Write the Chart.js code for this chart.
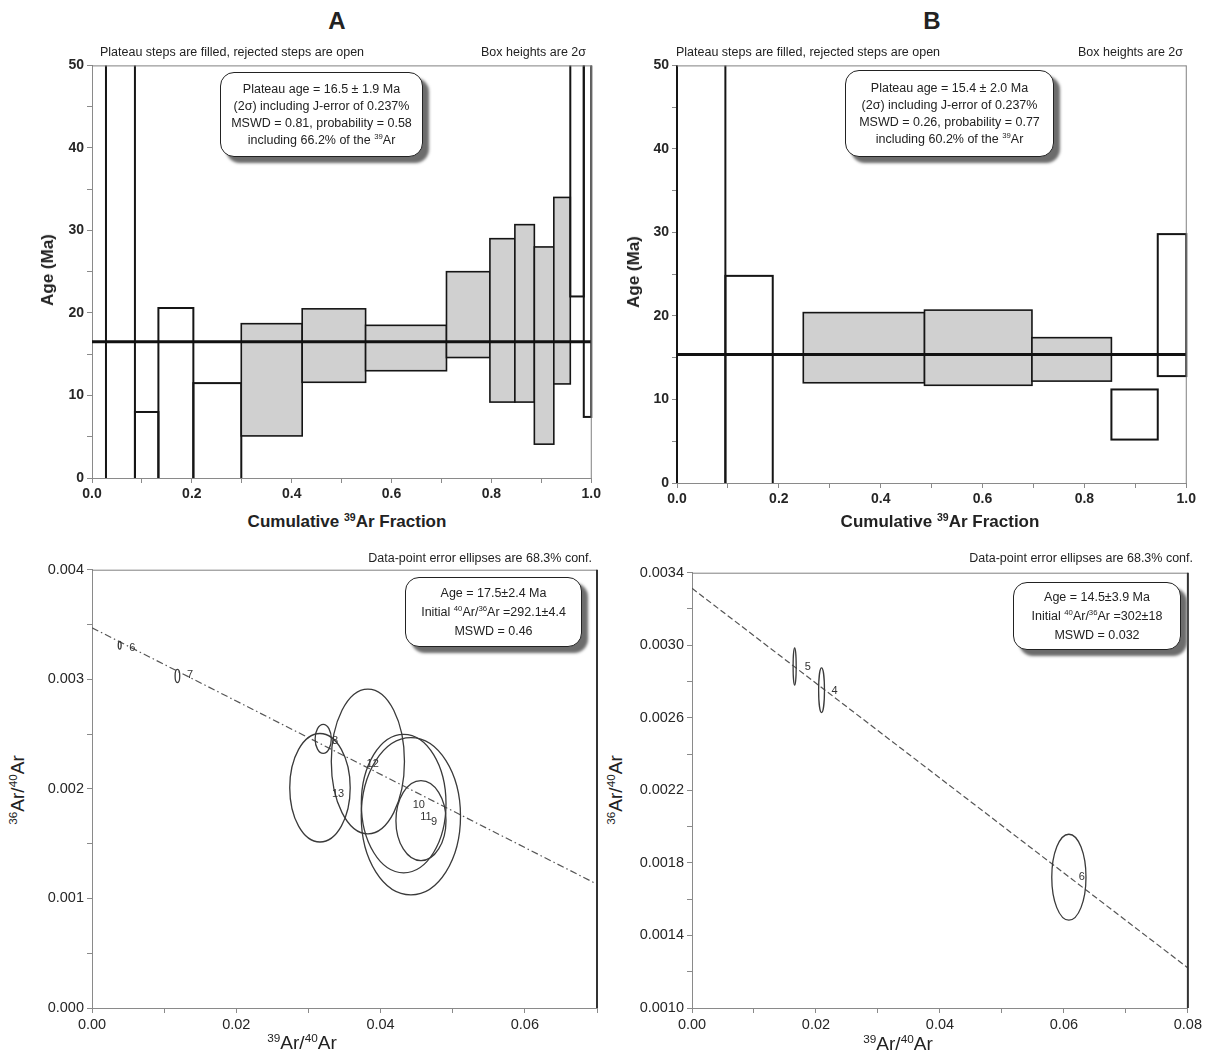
<!DOCTYPE html>
<html>
<head>
<meta charset="utf-8">
<script src="https://cdn.jsdelivr.net/npm/chart.js@4.4.1/dist/chart.umd.min.js"></script>
<style>
body { margin: 0; width: 1205px; height: 1055px; background: #fff; position: relative; overflow: hidden;
       font-family: "Liberation Sans", Arial, sans-serif; color: #222; }
canvas { position: absolute; }
.t { position: absolute; white-space: nowrap; }
.c { transform: translate(-50%, -50%); }
.rot { transform: translate(-50%, -50%) rotate(-90deg); }
.r { transform: translate(-100%, -50%); }
.l { transform: translate(0, -50%); }
sup { font-size: 0.62em; line-height: 0; vertical-align: 0.6em; }
.box { position: absolute; box-sizing: border-box; border: 1.5px solid #222; border-radius: 14px; background: #fff;
       box-shadow: 6px 6px 3px #6c6c6c; text-align: center; display: flex; flex-direction: column;
       justify-content: center; white-space: nowrap; }
.title { font-weight: bold; font-size: 24px; }
.small { font-size: 12.5px; }
.axb { font-weight: bold; font-size: 17px; }
.axn { font-size: 19px; }
</style>
</head>
<body>
<canvas id="chartA" width="552" height="454" style="left:52px;top:54px"></canvas>
<canvas id="chartB" width="562" height="459" style="left:637px;top:54px"></canvas>
<canvas id="chartC" width="561" height="480" style="left:42px;top:558px"></canvas>
<canvas id="chartD" width="569" height="477" style="left:636px;top:561px"></canvas>

<div class="t c title" style="left:337px;top:21px">A</div>
<div class="t l small" style="left:100px;top:52px">Plateau steps are filled, rejected steps are open</div>
<div class="t r small" style="left:586px;top:52px">Box heights are 2σ</div>
<div class="box small" style="left:220px;top:72px;width:203px;height:85px;line-height:17px">
  <div>Plateau age = 16.5 ± 1.9 Ma</div>
  <div>(2σ) including J-error of 0.237%</div>
  <div>MSWD = 0.81, probability = 0.58</div>
  <div>including 66.2% of the <sup>39</sup>Ar</div>
</div>
<div class="t rot axb" style="left:48px;top:270px">Age (Ma)</div>
<div class="t c axb" style="left:347px;top:522px">Cumulative <sup>39</sup>Ar Fraction</div>

<div class="t c title" style="left:932px;top:21px">B</div>
<div class="t l small" style="left:676px;top:52px">Plateau steps are filled, rejected steps are open</div>
<div class="t r small" style="left:1183px;top:52px">Box heights are 2σ</div>
<div class="box small" style="left:845px;top:70px;width:209px;height:87px;line-height:17px">
  <div>Plateau age = 15.4 ± 2.0 Ma</div>
  <div>(2σ) including J-error of 0.237%</div>
  <div>MSWD = 0.26, probability = 0.77</div>
  <div>including 60.2% of the <sup>39</sup>Ar</div>
</div>
<div class="t rot axb" style="left:634px;top:272px">Age (Ma)</div>
<div class="t c axb" style="left:940px;top:522px">Cumulative <sup>39</sup>Ar Fraction</div>

<div class="t r small" style="left:592px;top:558px">Data-point error ellipses are 68.3% conf.</div>
<div class="box small" style="left:405px;top:577px;width:177px;height:70px;line-height:19px">
  <div>Age = 17.5±2.4 Ma</div>
  <div>Initial <sup>40</sup>Ar/<sup>36</sup>Ar =292.1±4.4</div>
  <div>MSWD = 0.46</div>
</div>
<div class="t rot axn" style="left:18px;top:790px"><sup>36</sup>Ar/<sup>40</sup>Ar</div>
<div class="t c axn" style="left:302px;top:1043px"><sup>39</sup>Ar/<sup>40</sup>Ar</div>

<div class="t r small" style="left:1193px;top:558px">Data-point error ellipses are 68.3% conf.</div>
<div class="box small" style="left:1013px;top:582px;width:168px;height:68px;line-height:19px">
  <div>Age = 14.5±3.9 Ma</div>
  <div>Initial <sup>40</sup>Ar/<sup>36</sup>Ar =302±18</div>
  <div>MSWD = 0.032</div>
</div>
<div class="t rot axn" style="left:616px;top:790px"><sup>36</sup>Ar/<sup>40</sup>Ar</div>
<div class="t c axn" style="left:898px;top:1044px"><sup>39</sup>Ar/<sup>40</sup>Ar</div>

<script>
const FONT = '"Liberation Sans", Arial, sans-serif';

// spectrum A: step edges (cumulative 39Ar), 2 sigma box bottoms/tops (Ma), plateau flag
// first step lies off scale
const stepEdgesA = [0, 0.028, 0.086, 0.133, 0.203, 0.299, 0.421, 0.548, 0.710, 0.797, 0.847, 0.886, 0.925, 0.958, 0.985, 1.0];
const stepLowA = [null, -30, -12, -6, -6, 5.1, 11.6, 13.0, 14.6, 9.2, 9.2, 4.1, 11.4, 22.0, 7.4];
const stepHighA = [null, 80, 8.0, 20.6, 11.5, 18.7, 20.5, 18.5, 25.0, 29.0, 30.7, 28.0, 34.0, 70, 70];
const plateauStepsA = [0, 0, 0, 0, 0, 1, 1, 1, 1, 1, 1, 1, 1, 0, 0];
const plateauAgeA = 16.5;

// spectrum B (third step lies off scale)
const stepEdgesB = [0, 0.095, 0.188, 0.248, 0.486, 0.697, 0.853, 0.944, 1.0];
const stepLowB = [-40, -10, null, 12.0, 11.7, 12.2, 5.2, 12.8];
const stepHighB = [90, 24.8, null, 20.4, 20.7, 17.4, 11.2, 29.8];
const plateauStepsB = [0, 0, 0, 1, 1, 1, 0, 0];
const plateauAgeB = 15.4;

// isochron A: ellipse centres and half-axes, step numbers, label spots
const isoStepC = ['6', '7', '8', '13', '12', '10', '11', '9'];
const isoXC = [0.00384, 0.01184, 0.03205, 0.0316, 0.03824, 0.0456, 0.0432, 0.0442];
const isoYC = [0.00331, 0.00303, 0.002456, 0.00201, 0.00225, 0.00171, 0.001866, 0.00175];
const isoSxC = [0.0002, 0.00032, 0.00112, 0.00419, 0.00507, 0.00347, 0.00587, 0.00688];
const isoSyC = [0.000035, 0.00006, 0.000133, 0.000495, 0.00066, 0.000365, 0.000632, 0.000717];
const labelXC = [0.0056, 0.0136, 0.0337, 0.0341, 0.0389, 0.0453, 0.0463, 0.0474];
const labelYC = [0.00329, 0.00304, 0.00244, 0.00195, 0.00223, 0.00185, 0.00174, 0.0017];
const isochronXC = [0, 0.07];
const isochronYC = [0.00347, 0.00113];

// isochron B
const isoStepD = ['5', '4', '6'];
const isoXD = [0.01656, 0.0209, 0.0608];
const isoYD = [0.002883, 0.002752, 0.001721];
const isoSxD = [0.00025, 0.00047, 0.00276];
const isoSyD = [0.000103, 0.000123, 0.000237];
const labelXD = [0.0187, 0.0230, 0.0629];
const labelYD = [0.00288, 0.00275, 0.00172];
const isochronXD = [0, 0.08];
const isochronYD = [0.003314, 0.001221];

function stepsPlugin(edges, lows, highs, filled) {
  return {
    id: 'steps',
    beforeDatasetsDraw(chart) {
      const { ctx, chartArea: a, scales: { x, y } } = chart;
      ctx.save();
      ctx.beginPath();
      ctx.rect(a.left - 2, a.top, a.right - a.left + 4, a.bottom - a.top);
      ctx.clip();
      for (let i = 0; i < lows.length; i++) {
        if (lows[i] === null) continue;
        const x0 = x.getPixelForValue(edges[i]);
        const x1 = x.getPixelForValue(edges[i + 1]);
        const y0 = y.getPixelForValue(highs[i]);
        const y1 = y.getPixelForValue(lows[i]);
        if (filled[i]) {
          ctx.fillStyle = '#d0d0d0';
          ctx.fillRect(x0, y0, x1 - x0, y1 - y0);
        }
        ctx.lineWidth = filled[i] ? 1.6 : 2;
        ctx.strokeStyle = '#151515';
        ctx.strokeRect(x0, y0, x1 - x0, y1 - y0);
      }
      ctx.restore();
    }
  };
}

function ellipsePlugin(names, xs, ys, sxs, sys, lxs, lys) {
  return {
    id: 'ellipses',
    afterDatasetsDraw(chart) {
      const { ctx, scales: { x, y } } = chart;
      ctx.save();
      ctx.strokeStyle = '#3a3a3a';
      ctx.lineWidth = 1.3;
      for (let i = 0; i < xs.length; i++) {
        const cx = x.getPixelForValue(xs[i]);
        const cy = y.getPixelForValue(ys[i]);
        const rx = Math.abs(x.getPixelForValue(xs[i] + sxs[i]) - cx);
        const ry = Math.abs(y.getPixelForValue(ys[i] + sys[i]) - cy);
        ctx.beginPath();
        ctx.ellipse(cx, cy, Math.max(rx, 0.8), Math.max(ry, 0.8), 0, 0, Math.PI * 2);
        ctx.stroke();
      }
      ctx.fillStyle = '#333';
      ctx.font = '11px ' + FONT;
      ctx.textAlign = 'center';
      ctx.textBaseline = 'middle';
      names.forEach((n, i) => {
        ctx.fillText(n, x.getPixelForValue(lxs[i]), y.getPixelForValue(lys[i]));
      });
      ctx.restore();
    }
  };
}

function framePlugin(rightWidth) {
  return {
    id: 'frame',
    afterDraw(chart) {
      const { ctx, chartArea: a } = chart;
      ctx.save();
      ctx.strokeStyle = '#808080';
      ctx.lineWidth = 1;
      ctx.beginPath();
      ctx.moveTo(a.left, a.top + 0.5);
      ctx.lineTo(a.right, a.top + 0.5);
      ctx.stroke();
      ctx.strokeStyle = rightWidth > 1 ? '#333' : '#808080';
      ctx.lineWidth = rightWidth;
      ctx.beginPath();
      ctx.moveTo(a.right, a.top);
      ctx.lineTo(a.right, a.bottom);
      ctx.stroke();
      ctx.restore();
    }
  };
}

function axisOptions(min, max, step, size, fontSize, bold, label) {
  return {
    type: 'linear', min: min, max: max,
    afterFit: s => { if (s.isHorizontal()) s.height = size; else s.width = size; },
    ticks: { stepSize: step, autoSkip: false, maxRotation: 0, padding: 3, color: '#262626',
             font: { size: fontSize, family: FONT, weight: bold ? 'bold' : 'normal' }, callback: label },
    grid: { drawOnChartArea: false, tickLength: 5, color: '#8a8a8a' },
    border: { color: '#8a8a8a' }
  };
}

function baseOptions(padRight, scales) {
  return {
    responsive: false, animation: false,
    layout: { padding: { top: 10, right: padRight, left: 0, bottom: 0 } },
    plugins: { legend: { display: false }, tooltip: { enabled: false } },
    scales: scales
  };
}

function lineData(xs, ys) {
  return xs.map((v, i) => ({ x: v, y: ys[i] }));
}

// spectra
const fracLabel = v => Math.round(v * 10) % 2 === 0 ? v.toFixed(1) : '';
const ageLabel = v => Math.round(v) % 10 === 0 ? String(Math.round(v)) : '';

new Chart(document.getElementById('chartA'), {
  type: 'scatter',
  data: { datasets: [{ data: lineData([0, 1], [plateauAgeA, plateauAgeA]), showLine: true,
                       borderColor: '#111', borderWidth: 3, pointRadius: 0 }] },
  options: baseOptions(12, {
    x: axisOptions(0, 1, 0.1, 30, 14, true, fracLabel),
    y: axisOptions(0, 50, 5, 40, 14, true, ageLabel)
  }),
  plugins: [stepsPlugin(stepEdgesA, stepLowA, stepHighA, plateauStepsA), framePlugin(1)]
});

new Chart(document.getElementById('chartB'), {
  type: 'scatter',
  data: { datasets: [{ data: lineData([0, 1], [plateauAgeB, plateauAgeB]), showLine: true,
                       borderColor: '#111', borderWidth: 3, pointRadius: 0 }] },
  options: baseOptions(12, {
    x: axisOptions(0, 1, 0.1, 30, 14, true, fracLabel),
    y: axisOptions(0, 50, 5, 40, 14, true, ageLabel)
  }),
  plugins: [stepsPlugin(stepEdgesB, stepLowB, stepHighB, plateauStepsB), framePlugin(1)]
});

// isochrons
new Chart(document.getElementById('chartC'), {
  type: 'scatter',
  data: { datasets: [{ data: lineData(isochronXC, isochronYC), showLine: true, borderColor: '#555',
                       borderWidth: 1.2, borderDash: [7, 3, 1.5, 3], pointRadius: 0 }] },
  options: baseOptions(6, {
    x: axisOptions(0, 0.07, 0.01, 30, 14.5, false, v => Math.round(v * 100) % 2 === 0 ? v.toFixed(2) : ''),
    y: axisOptions(0, 0.004, 0.0005, 50, 14.5, false, v => Math.round(v * 2000) % 2 === 0 ? v.toFixed(3) : '')
  }),
  plugins: [ellipsePlugin(isoStepC, isoXC, isoYC, isoSxC, isoSyC, labelXC, labelYC), framePlugin(2)]
});

new Chart(document.getElementById('chartD'), {
  type: 'scatter',
  data: { datasets: [{ data: lineData(isochronXD, isochronYD), showLine: true, borderColor: '#555',
                       borderWidth: 1.2, borderDash: [6, 3], pointRadius: 0 }] },
  options: baseOptions(13, {
    x: axisOptions(0, 0.08, 0.01, 30, 14.5, false, v => Math.round(v * 100) % 2 === 0 ? v.toFixed(2) : ''),
    y: axisOptions(0.001, 0.0034, 0.0002, 56, 14.5, false,
                   v => Math.round((v - 0.001) / 0.0002) % 2 === 0 ? v.toFixed(4) : '')
  }),
  plugins: [ellipsePlugin(isoStepD, isoXD, isoYD, isoSxD, isoSyD, labelXD, labelYD), framePlugin(2)]
});
</script>
</body>
</html>
